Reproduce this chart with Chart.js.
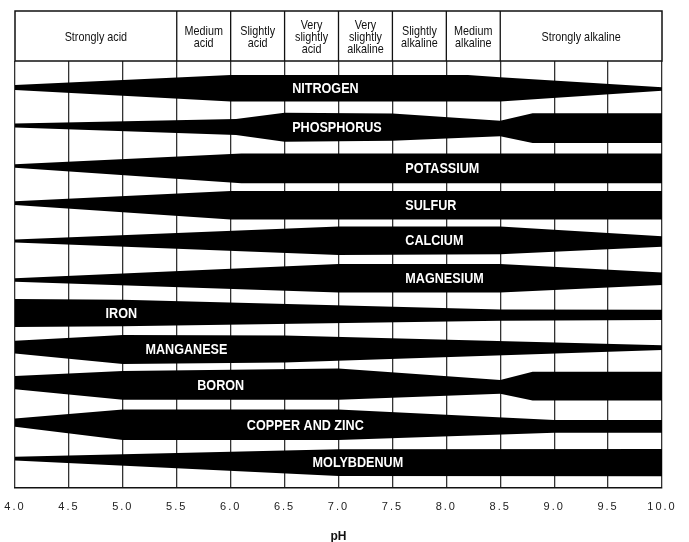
<!DOCTYPE html>
<html>
<head>
<meta charset="utf-8">
<script src="https://cdn.jsdelivr.net/npm/chart.js@4.4.1/dist/chart.umd.min.js"></script>
<style>
  html, body { margin: 0; padding: 0; background: #fff; }
</style>
</head>
<body>
<canvas id="Chart" width="689" height="542"></canvas>
<script>
// pH classes across the top
var zoneNames = ['Strongly acid', 'Medium\nacid', 'Slightly\nacid', 'Very\nslightly\nacid',
  'Very\nslightly\nalkaline', 'Slightly\nalkaline', 'Medium\nalkaline', 'Strongly alkaline'];
var zoneEdges = [4.0, 5.5, 6.0, 6.5, 7.0, 7.5, 8.0, 8.5, 10.0];

// nutrients, one band each (row 0 at top)
var nutrients = ['NITROGEN', 'PHOSPHORUS', 'POTASSIUM', 'SULFUR', 'CALCIUM', 'MAGNESIUM',
  'IRON', 'MANGANESE', 'BORON', 'COPPER AND ZINC', 'MOLYBDENUM'];
var labelPh = [6.57, 6.57, 7.62, 7.62, 7.62, 7.62, 4.84, 5.21, 5.69, 6.15, 6.76];

// band outline: pH knots, upper edge, lower edge (in row units)
var bandPh = [
  [4, 6, 8.2, 8.5, 10],
  [4, 6.05, 6.5, 7.5, 8.5, 8.8, 10],
  [4, 6.1, 10],
  [4, 6, 10],
  [4, 7, 8.5, 10],
  [4, 7, 8.5, 10],
  [4, 5, 8.5, 10],
  [4, 5, 6.5, 10],
  [4, 5, 7, 8.5, 8.8, 10],
  [4, 5, 7, 9, 10],
  [4, 7, 10]
];
var bandTop = [
  [-0.08, -0.35, -0.35, -0.29, -0.02],
  [0.94, 0.82, 0.66, 0.68, 0.87, 0.67, 0.67],
  [2.03, 1.74, 1.74],
  [3.01, 2.74, 2.74],
  [4.03, 3.68, 3.68, 3.94],
  [5.06, 4.68, 4.68, 4.91],
  [5.61, 5.63, 5.89, 5.90],
  [6.72, 6.57, 6.58, 6.84],
  [7.66, 7.53, 7.46, 7.77, 7.55, 7.55],
  [8.79, 8.55, 8.55, 8.83, 8.83],
  [9.81, 9.61, 9.60]
];
var bandBottom = [
  [0.05, 0.36, 0.36, 0.36, 0.07],
  [1.05, 1.25, 1.43, 1.40, 1.28, 1.46, 1.46],
  [2.12, 2.53, 2.53],
  [3.11, 3.50, 3.50],
  [4.11, 4.44, 4.42, 4.22],
  [5.15, 5.44, 5.44, 5.24],
  [6.36, 6.34, 6.19, 6.17],
  [7.06, 7.34, 7.30, 6.97],
  [8.01, 8.29, 8.29, 8.13, 8.31, 8.31],
  [9.01, 9.36, 9.36, 9.17, 9.17],
  [9.91, 10.32, 10.33]
];

var datasets = [];
nutrients.forEach(function (n, i) {
  datasets.push({
    label: n + ' low',
    data: bandPh[i].map(function (p, k) { return {x: p, y: bandBottom[i][k]}; }),
    borderWidth: 0, pointRadius: 0, fill: false, backgroundColor: '#000'
  });
  datasets.push({
    label: n,
    data: bandPh[i].map(function (p, k) { return {x: p, y: bandTop[i][k]}; }),
    borderWidth: 0, pointRadius: 0, fill: '-1', backgroundColor: '#000'
  });
});

function interp(xs, ys, x) {
  for (var k = 0; k < xs.length - 1; k++) {
    if (x >= xs[k] && x <= xs[k + 1]) {
      var t = (x - xs[k]) / (xs[k + 1] - xs[k]);
      return ys[k] + t * (ys[k + 1] - ys[k]);
    }
  }
  return ys[ys.length - 1];
}

// narrow text: draw squeezed horizontally
function squeezed(ctx, text, x, y, sx) {
  ctx.save();
  ctx.translate(x, y);
  ctx.scale(sx, 1);
  ctx.fillText(text, 0, 0);
  ctx.restore();
}

var spacing = {
  id: 'spacing',
  beforeDraw: function (chart) { chart.ctx.letterSpacing = '2px'; },
  beforeDatasetsDraw: function (chart) { chart.ctx.letterSpacing = '0px'; }
};

var extras = {
  id: 'extras',
  afterDraw: function (chart) {
    var ctx = chart.ctx, xs = chart.scales.x, ys = chart.scales.y, area = chart.chartArea;
    ctx.save();
    ctx.letterSpacing = '0px';
    // band names
    ctx.fillStyle = '#fff';
    ctx.font = 'bold 14px "Liberation Sans", Arial, sans-serif';
    ctx.textAlign = 'left';
    ctx.textBaseline = 'middle';
    nutrients.forEach(function (n, i) {
      var mid = (interp(bandPh[i], bandTop[i], labelPh[i]) + interp(bandPh[i], bandBottom[i], labelPh[i])) / 2;
      squeezed(ctx, n, xs.getPixelForValue(labelPh[i]), ys.getPixelForValue(mid) + 1, 0.9);
    });
    // header box
    var top = area.top - 50, bot = area.top;
    var l = xs.getPixelForValue(zoneEdges[0]), r = xs.getPixelForValue(zoneEdges[zoneEdges.length - 1]);
    ctx.strokeStyle = '#111';
    ctx.lineWidth = 1.5;
    ctx.strokeRect(l, top, r - l, bot - top);
    ctx.lineWidth = 1.3;
    ctx.beginPath();
    for (var k = 1; k < zoneEdges.length - 1; k++) {
      var px = xs.getPixelForValue(zoneEdges[k]);
      ctx.moveTo(px, top); ctx.lineTo(px, bot);
    }
    ctx.stroke();
    ctx.fillStyle = '#111';
    ctx.font = '13.5px "Liberation Sans", Arial, sans-serif';
    ctx.textAlign = 'center';
    var lh = 12;
    zoneNames.forEach(function (z, k) {
      var cx = (xs.getPixelForValue(zoneEdges[k]) + xs.getPixelForValue(zoneEdges[k + 1])) / 2;
      var lines = z.split('\n');
      var cy = (top + bot) / 2 + 1 - (lines.length - 1) * lh / 2;
      lines.forEach(function (t, j) { squeezed(ctx, t, cx, cy + j * lh, 0.8); });
    });
    // axis title
    ctx.font = 'bold 12px "Liberation Sans", Arial, sans-serif';
    ctx.fillText('pH', (area.left + area.right) / 2, 537);
    ctx.restore();
  }
};

var ctx = document.getElementById('Chart').getContext('2d');
var chart = new Chart(ctx, {
  type: 'line',
  data: { datasets: datasets },
  options: {
    responsive: false,
    animation: false,
    layout: { padding: { left: 15, right: 27, top: 61, bottom: 0 } },
    plugins: { legend: { display: false }, tooltip: { enabled: false } },
    elements: { line: { tension: 0 } },
    scales: {
      x: {
        type: 'linear', min: 4, max: 10,
        afterFit: function (s) { s.height = 54; s.paddingLeft = 0; s.paddingRight = 0; },
        grid: { color: '#333', lineWidth: 1.3, drawTicks: false },
        border: { color: '#111', width: 1.5 },
        ticks: {
          stepSize: 0.5, padding: 12, color: '#222',
          font: { family: '"Liberation Sans", Arial, sans-serif', size: 11 },
          callback: function (v) { return v.toFixed(1); }
        }
      },
      y: { type: 'linear', min: -0.72, max: 10.64, reverse: true, display: false }
    }
  },
  plugins: [spacing, extras]
});
</script>
</body>
</html>
